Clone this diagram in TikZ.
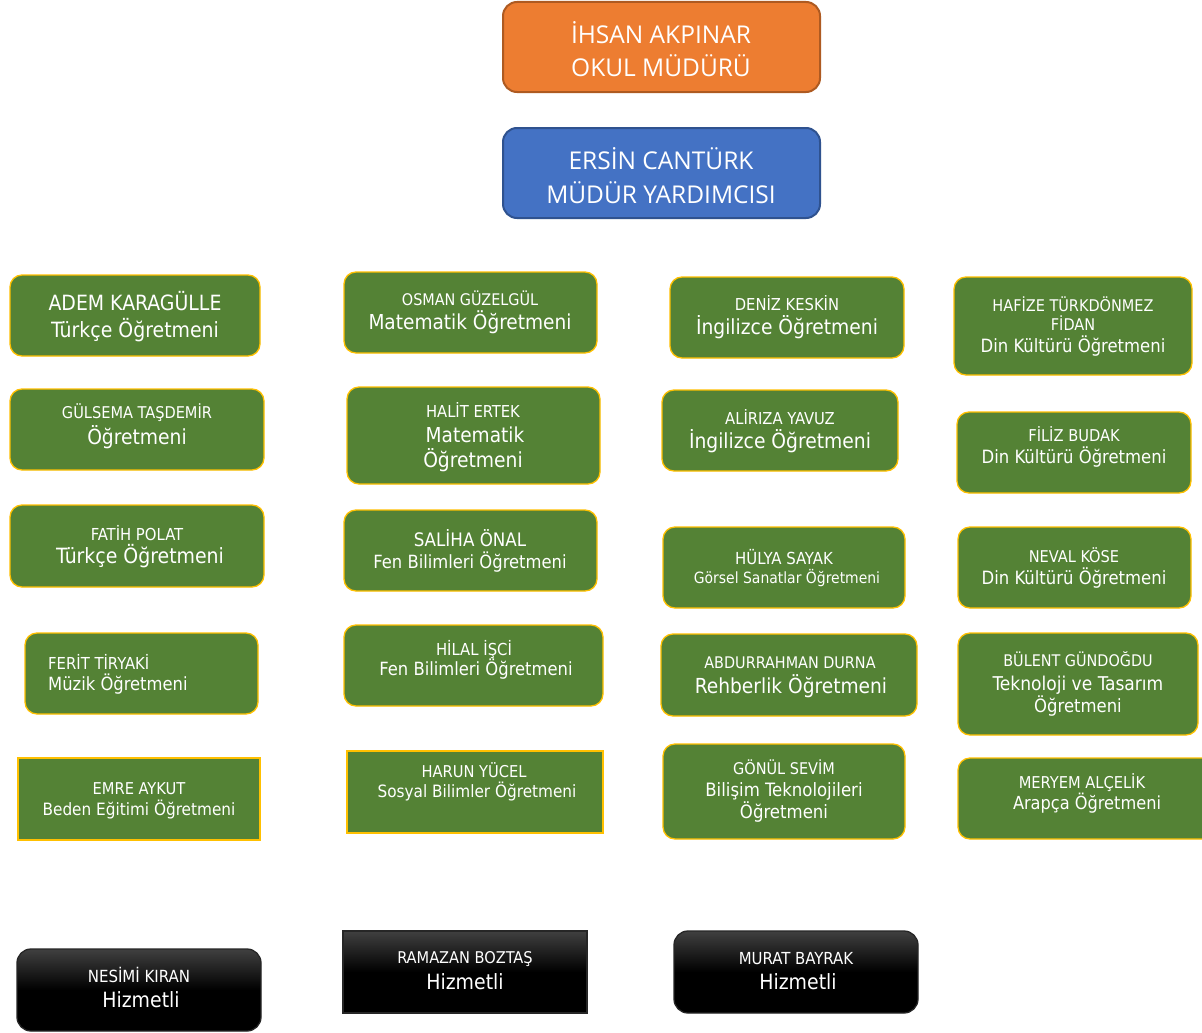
\documentclass[tikz,border=0pt]{standalone}
\usepackage{fontspec}
\setmainfont{DejaVu Sans Condensed}
\newfontfamily\topfont{Open Sans}
\usetikzlibrary{fit}
\definecolor{gfill}{HTML}{548235}
\definecolor{gold}{HTML}{FFC000}
\definecolor{orfill}{HTML}{ED7D31}
\definecolor{ordraw}{HTML}{AE5A21}
\definecolor{blfill}{HTML}{4472C4}
\definecolor{bldraw}{HTML}{2F528F}
\begin{document}
\begin{tikzpicture}[x=1pt,y=-1pt,
 box/.style={inner sep=0pt, outer sep=0pt, line width=1.3pt},
 gbox/.style={box, fill=gfill, draw=gold, rounded corners=12pt},
 gsq/.style={box, fill=gfill, draw=gold},
 obox/.style={box, fill=orfill, draw=ordraw, rounded corners=14pt, line width=2pt},
 bbox/.style={box, fill=blfill, draw=bldraw, rounded corners=14pt, line width=2pt},
 kshade/.style={top color=black!75, bottom color=black, middle color=black},
 kbox/.style={box, draw=black!85, kshade, rounded corners=14pt},
 ksq/.style={box, draw=black!85, kshade},
 t/.style={inner sep=0pt, text=white, font=\fontsize{#1}{#1}\selectfont, text height={0.73*#1pt}, text depth=0pt},
 tt/.style={inner sep=0pt, text=white, font=\topfont\fontsize{#1}{#1}\selectfont, text height={0.72*#1pt}, text depth=0pt},
]
\useasboundingbox[fill=white] (0,0) rectangle (1202,1033);
% top
\node[obox, fit={(503,2) (820,92)}] (mudur) {};
\node[tt=24.5] (mudurA) at (661,35) {İHSAN AKPINAR};
\node[tt=24.5] (mudurB) at (661,68) {OKUL MÜDÜRÜ};
\node[bbox, fit={(503,128) (820,218)}] (yard) {};
\node[tt=24.5] (yardA) at (661,161) {ERSİN CANTÜRK};
\node[tt=24.5] (yardB) at (661,195) {MÜDÜR YARDIMCISI};
% column 1
\node[gbox, fit={(10,275) (260,356)}] (a1) {};
\node[t=21] (a1a) at (135,303) {ADEM KARAGÜLLE};
\node[t=21] (a1b) at (135,330) {Türkçe Öğretmeni};
\node[gbox, fit={(10,389) (264,470)}] (a2) {};
\node[t=16.2] (a2a) at (137,413) {GÜLSEMA TAŞDEMİR};
\node[t=20.8] (a2b) at (137,437) {Öğretmeni};
\node[gbox, fit={(10,505) (264,587)}] (a3) {};
\node[t=16.5] (a3a) at (137,534) {FATİH POLAT};
\node[t=21] (a3b) at (140,556) {Türkçe Öğretmeni};
\node[gbox, fit={(25,633) (258,714)}] (a4) {};
\node[t=16.5, anchor=west] (a4a) at (48,663) {FERİT TİRYAKİ};
\node[t=18.2, anchor=west] (a4b) at (48,684) {Müzik Öğretmeni};
\node[gsq, fit={(18,758) (260,840)}] (a5) {};
\node[t=16.3] (a5a) at (139,789) {EMRE AYKUT};
\node[t=17] (a5b) at (139,809) {Beden Eğitimi Öğretmeni};
% column 2
\node[gbox, fit={(344,272) (597,353)}] (b1) {};
\node[t=16] (b1a) at (470,300) {OSMAN GÜZELGÜL};
\node[t=20.6] (b1b) at (470,322) {Matematik Öğretmeni};
\node[gbox, fit={(347,387) (600,484)}] (b2) {};
\node[t=16.4] (b2a) at (473,412) {HALİT ERTEK};
\node[t=20.6] (b2b) at (475,435) {Matematik};
\node[t=20.8] (b2c) at (473,460) {Öğretmeni};
\node[gbox, fit={(344,510) (597,591)}] (b3) {};
\node[t=18.6] (b3a) at (470,540) {SALİHA ÖNAL};
\node[t=18.2] (b3b) at (470,562) {Fen Bilimleri Öğretmeni};
\node[gbox, fit={(344,625) (603,706)}] (b4) {};
\node[t=16.5] (b4a) at (474,649) {HİLAL İŞCİ};
\node[t=18.2] (b4b) at (476,669) {Fen Bilimleri Öğretmeni};
\node[gsq, fit={(347,751) (603,833)}] (b5) {};
\node[t=16.3] (b5a) at (474,772) {HARUN YÜCEL};
\node[t=17] (b5b) at (477,791) {Sosyal Bilimler Öğretmeni};
% column 3
\node[gbox, fit={(670,277) (904,358)}] (c1) {};
\node[t=16.4] (c1a) at (787,305) {DENİZ KESKİN};
\node[t=20.8] (c1b) at (787,327) {İngilizce Öğretmeni};
\node[gbox, fit={(662,390) (898,471)}] (c2) {};
\node[t=16.4] (c2a) at (780,419) {ALİRIZA YAVUZ};
\node[t=20.8] (c2b) at (780,441) {İngilizce Öğretmeni};
\node[gbox, fit={(663,527) (905,608)}] (c3) {};
\node[t=16.6] (c3a) at (784,558) {HÜLYA SAYAK};
\node[t=15.5] (c3b) at (787,578) {Görsel Sanatlar Öğretmeni};
\node[gbox, fit={(661,634) (917,716)}] (c4) {};
\node[t=16] (c4a) at (790,663) {ABDURRAHMAN DURNA};
\node[t=20.7] (c4b) at (791,686) {Rehberlik Öğretmeni};
\node[gbox, fit={(663,744) (905,839)}] (c5) {};
\node[t=16.1] (c5a) at (784,769) {GÖNÜL SEVİM};
\node[t=18.4] (c5b) at (784,790) {Bilişim Teknolojileri};
\node[t=18.4] (c5c) at (784,812) {Öğretmeni};
% column 4
\node[gbox, fit={(954,277) (1192,375)}] (d1) {};
\node[t=16.1] (d1a) at (1073,306) {HAFİZE TÜRKDÖNMEZ};
\node[t=16.1] (d1b) at (1073,325) {FİDAN};
\node[t=18.3] (d1c) at (1073,346) {Din Kültürü Öğretmeni};
\node[gbox, fit={(957,412) (1191,493)}] (d2) {};
\node[t=16.3] (d2a) at (1074,436) {FİLİZ BUDAK};
\node[t=18.3] (d2b) at (1074,457) {Din Kültürü Öğretmeni};
\node[gbox, fit={(958,527) (1191,608)}] (d3) {};
\node[t=16.2] (d3a) at (1074,557) {NEVAL KÖSE};
\node[t=18.3] (d3b) at (1074,578) {Din Kültürü Öğretmeni};
\node[gbox, fit={(958,633) (1198,735)}] (d4) {};
\node[t=16] (d4a) at (1078,661) {BÜLENT GÜNDOĞDU};
\node[t=19] (d4b) at (1078,684) {Teknoloji ve Tasarım};
\node[t=18.3] (d4c) at (1078,706) {Öğretmeni};
\node[gbox, fit={(958,758) (1214,839)}] (d5) {};
\node[t=16.3] (d5a) at (1082,783) {MERYEM ALÇELİK};
\node[t=18] (d5b) at (1087,803) {Arapça Öğretmeni};
% bottom
\node[kbox, fit={(17,949) (261,1031)}] (k1) {};
\node[t=16.7] (k1a) at (139,976) {NESİMİ KIRAN};
\node[t=21] (k1b) at (141,1000) {Hizmetli};
\node[ksq, fit={(343,931) (587,1013)}] (k2) {};
\node[t=16.2] (k2a) at (465,958) {RAMAZAN BOZTAŞ};
\node[t=21] (k2b) at (465,982) {Hizmetli};
\node[kbox, fit={(674,931) (918,1013)}] (k3) {};
\node[t=16.6] (k3a) at (796,958) {MURAT BAYRAK};
\node[t=21] (k3b) at (798,982) {Hizmetli};
\end{tikzpicture}
\end{document}
